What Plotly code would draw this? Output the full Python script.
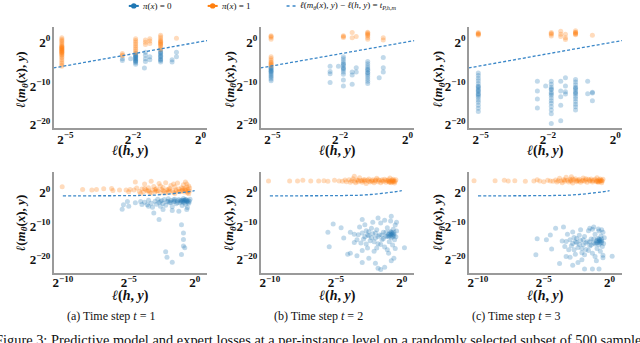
import plotly.graph_objects as go

W, H = 640, 343
BLUE = "#1f77b4"
ORANGE = "#ff7f0e"
LINE_BLUE = "#3a87c8"
SERIF = "Liberation Serif"

# ------------------------------------------------------------------
# DATA  (all values are log2 of the losses)
# top row: columns -> (log2 l(h,y), [log2 l(m(x),y) ...])
# ------------------------------------------------------------------
top1_orange = [(-5.16, [1.0, 0.7, 0.4, 0.1, -0.2, -0.5, -0.8, -1.0, -1.2, -1.4, -1.6, -1.8, -2.0, -2.2,
                        -2.4, -2.6, -2.8, -3.0, -3.3, -3.6, -4.0, -4.4, -4.8, -5.2, -5.5, -1.1, -1.5, -1.9, -2.3]),
               (-2.47, [-2.6, -2.9, -3.1]),
               (-1.92, [0.8, 0.4, 0.0, -0.4, -0.8, -1.2, -1.6, -2.0, -2.4]),
               (-1.63, [0.5, 0.0, -0.5]),
               (-1.50, [0.8, 0.3, -0.3]),
               (-1.18, [1.6, 1.2, 0.8, 0.4, 0.0, -0.4, -0.8, -1.2, -1.6, 0.2, -0.2, -0.6]),
               (-0.71, [0.9])]
top1_blue = [(-2.47, [-3.8, -4.2]),
             (-2.10, [-3.8]),
             (-1.92, [-2.6, -2.9, -3.2, -3.5, -3.8, -4.1, -4.4, -4.7, -5.0, -3.0, -3.4, -3.9, -4.3]),
             (-1.66, [-5.9]),
             (-1.63, [-2.3, -3.0, -3.8, -4.4]),
             (-1.50, [-3.3, -4.0]),
             (-1.18, [-1.8, -2.2, -2.6, -3.0, -3.4, -3.8, -4.2, -4.5, -2.4, -3.2, -4.0]),
             (-0.84, [-4.0, -4.5]),
             (-0.71, [-2.3, -3.3])]

top2_orange = [(-5.06, [1.5, 1.1, 0.7, 1.3, -3.3, -3.7, -4.1, -4.5, -4.9, -5.3, -4.7, -5.1]),
               (-1.90, [1.3, 1.1, 1.5]),
               (-1.64, [2.2, 1.0]),
               (-1.52, [1.3]),
               (-1.18, [2.3, 1.9, 1.5, 1.1, 0.7, 2.1, 1.7]),
               (-0.72, [1.0, 0.5])]
top2_blue = [(-5.06, [-5.6, -5.9, -6.2, -6.5, -6.8, -7.1, -7.4, -7.7, -8.0, -8.4, -8.8, -6.0, -6.6]),
             (-2.44, [-5.5, -6.7, -7.2, -9.2]),
             (-2.07, [-5.5]),
             (-1.90, [-3.3, -3.8, -4.3, -4.8, -5.3, -5.8, -6.3, -6.8, -7.3, -8.6, -10.0, -5.0, -6.0]),
             (-1.64, [-6.8, -7.5, -9.6]),
             (-1.52, [-5.8, -6.8]),
             (-1.18, [-4.4, -4.9, -5.4, -5.9, -6.4, -6.9, -7.4, -7.9, -8.4, -8.9, -9.4, -6.2, -7.0]),
             (-0.84, [-8.1]),
             (-0.72, [-3.5, -5.8, -6.8])]

top3_orange = [(-5.10, [2.2, 1.9, 1.6, 2.0, 1.8]),
               (-1.90, [2.2, 1.8, 1.4, 2.0]),
               (-1.62, [2.5, 1.8, 1.3]),
               (-1.48, [1.8, 1.0, 0.6]),
               (-1.18, [2.6, 2.3, 2.0, 1.7, 2.2, 1.9]),
               (-0.68, [1.6])]
top3_blue = [(-5.10, [-7.0, -7.6, -8.2, -8.8, -9.4, -10.0, -10.5, -11.0, -11.5, -12.0, -12.5, -13.0, -13.6,
                      -14.2, -15.0, -15.8, -16.6, -10.2, -11.2, -12.2]),
             (-2.47, [-8.9, -11.3, -13.4, -15.7]),
             (-2.10, [-10.0]),
             (-1.90, [-8.9, -9.6, -10.3, -11.0, -11.7, -12.4, -13.1, -13.8, -14.5, -15.3, -16.2, -17.2, -19.7,
                      -10.8, -12.0]),
             (-1.62, [-8.9, -11.3, -12.8, -15.0, -19.0]),
             (-1.48, [-8.1, -10.0, -11.5, -12.1]),
             (-1.18, [-8.5, -9.1, -9.7, -10.3, -10.9, -11.5, -12.1, -12.7, -13.3, -14.0, -14.7, -15.4, -16.2,
                      -10.6, -11.8]),
             (-0.82, [-8.9, -12.0]),
             (-0.68, [-11.6, -11.8, -13.8])]

# threshold line in the top row (log2 x, log2 y)
top_thr_x = [-5.53, -5.0, -2.0, 0.0, 0.2]
top_thr_y = [-5.87, -5.38, -2.64, 0.10, 0.38]

# bottom row: (log2 l(h,y), log2 l(m(x),y)) pairs
bot1_orange = [(-10.05, 1.8), (-8.5, 1.0), (-7.8, 0.8), (-7.45, 1.0), (-6.9, 1.2), (-6.3, 1.3), (-6.2, 0.7),
               (-5.7, 0.8), (-5.2, 0.8), (-4.9, 1.0), (-4.6, 0.8), (-4.5, 3.2), (-5.0, 0.3), (-4.4, 1.4),
               (-4.2, 0.4), (-4.0, 1.1), (-3.9, 0.2), (-3.8, 2.6), (-3.7, 0.9), (-3.6, 0.5), (-3.5, 1.5),
               (-3.4, 0.1), (-3.3, 3.4), (-3.2, 0.8), (-3.1, 1.9), (-3.0, 0.3), (-2.9, 1.2), (-2.8, 0.6),
               (-2.7, 2.8), (-2.6, 0.0), (-2.5, 1.0), (-2.4, 1.6), (-2.3, 0.4), (-2.2, 3.0), (-2.1, 0.9),
               (-2.0, 0.2), (-1.9, 1.3), (-1.8, 2.2), (-1.7, 0.7), (-1.6, 0.1), (-1.5, 1.8), (-1.4, 0.5),
               (-1.3, 2.9), (-1.2, 1.1), (-1.1, 0.3), (-1.0, 1.5), (-0.9, 0.8), (-0.85, 2.4), (-0.8, 0.2),
               (-0.75, 1.2), (-0.7, 3.2), (-0.65, 0.6), (-0.6, 1.7), (-0.55, 0.0), (-0.5, 1.0), (-0.45, 2.0),
               (-0.4, 0.5), (-0.38, 1.4), (-3.5, 0.6), (-2.9, 0.5), (-2.4, 0.7), (-1.9, 0.6), (-1.4, 0.9),
               (-1.0, 0.6), (-0.7, 0.9), (-0.5, 0.4), (-3.0, 1.0), (-2.0, 1.0), (-1.2, 0.4), (-0.9, 1.3),
               (-2.6, 2.0), (-1.6, 2.6), (-0.6, 2.6), (-3.8, 1.3), (-4.1, -0.2), (-3.3, -0.1), (-1.5, -0.2),
               (-0.45, -0.3), (-2.2, -0.1)]
bot1_blue = [(-3.8, -2.8), (-3.6, -3.6), (-3.5, -2.2), (-3.3, -3.1), (-3.2, -4.3), (-3.0, -2.5), (-2.9, -3.4),
             (-2.8, -1.9), (-2.7, -2.9), (-2.6, -4.0), (-2.5, -2.3), (-2.4, -3.2), (-2.3, -2.0), (-2.2, -3.7),
             (-2.1, -2.6), (-2.0, -1.8), (-1.9, -3.0), (-1.8, -2.3), (-1.7, -4.2), (-1.6, -2.7), (-1.5, -1.9),
             (-1.4, -3.3), (-1.3, -2.4), (-1.2, -2.0), (-1.1, -3.0), (-1.0, -2.6), (-0.95, -3.8), (-0.9, -2.2),
             (-0.85, -1.7), (-0.8, -2.9), (-0.75, -2.4), (-0.7, -3.4), (-0.65, -2.0), (-0.6, -2.7),
             (-0.55, -4.4), (-0.5, -2.3), (-0.45, -3.1), (-0.4, -2.5), (-0.35, -1.9), (-2.6, -2.6),
             (-2.0, -2.5), (-1.5, -2.5), (-1.1, -2.4), (-0.8, -2.2), (-0.6, -2.4), (-1.3, -2.9), (-1.8, -2.9),
             (-0.9, -2.7), (-0.5, -2.8), (-0.7, -2.1), (-1.0, -2.2), (-1.6, -2.1), (-4.5, -3.0), (-5.1, -2.6),
             (-5.4, -3.6), (-5.0, -4.0), (-4.1, -2.6), (-3.5, -4.0), (-5.5, -4.9), (-4.0, -3.5), (-3.1, -6.0),
             (-2.7, -8.0), (-1.7, -5.3), (-1.0, -9.5), (-0.85, -12.0), (-0.85, -13.9), (-0.85, -15.9),
             (-0.75, -16.4), (-1.0, -18.4), (-2.2, -17.6), (-2.1, -19.2), (-1.7, -20.7), (-2.4, -5.0),
             (-1.2, -5.5), (-0.6, -5.0)]

bot2_orange = [(-10.1, 3.5), (-8.5, 3.5), (-7.9, 3.5), (-7.5, 3.7), (-6.9, 3.5), (-6.3, 3.5), (-5.9, 3.6),
               (-5.6, 3.4), (-5.1, 3.7), (-4.75, 3.5), (-4.5, 3.4), (-4.3, 3.8), (-4.2, 3.3), (-4.0, 3.9),
               (-3.9, 3.1), (-3.8, 3.6), (-3.7, 4.2), (-3.6, 3.4), (-3.5, 3.0), (-3.4, 3.8), (-3.3, 3.3),
               (-3.2, 4.5), (-3.1, 3.6), (-3.0, 3.1), (-2.9, 3.9), (-2.8, 3.4), (-2.7, 2.8), (-2.6, 3.7),
               (-2.5, 4.1), (-2.4, 3.2), (-2.3, 3.6), (-2.2, 3.9), (-2.1, 3.0), (-2.0, 3.5), (-1.9, 4.3),
               (-1.8, 3.3), (-1.7, 3.7), (-1.6, 3.0), (-1.5, 3.9), (-1.4, 3.4), (-1.3, 4.0), (-1.2, 3.1),
               (-1.1, 3.6), (-1.0, 3.9), (-0.95, 3.2), (-0.9, 4.4), (-0.85, 3.5), (-0.8, 3.0), (-0.75, 3.8),
               (-0.7, 3.3), (-0.65, 4.0), (-0.6, 3.6), (-0.55, 2.9), (-0.5, 3.4), (-0.45, 3.9), (-3.0, 3.6),
               (-2.5, 3.4), (-2.0, 3.8), (-1.5, 3.5), (-1.0, 3.4), (-0.7, 3.6), (-3.3, 3.7), (-2.2, 3.4),
               (-1.2, 3.7), (-0.9, 3.1), (-0.6, 3.3), (-1.8, 3.9), (-2.8, 3.9), (-3.6, 4.9)]
bot2_blue = [(-5.2, -9.3), (-5.6, -11.8), (-5.5, -16.1), (-4.1, -18.3), (-3.9, -18.0), (-3.4, -18.8),
             (-3.0, -20.8), (-1.8, -22.5), (-1.6, -22.9), (-1.3, -22.2), (-0.8, -20.3), (0.2, -16.4),
             (-3.9, -11.8), (-3.0, -8.0), (-1.8, -7.5), (-0.8, -7.0), (-4.4, -13.5), (-4.6, -10.4),
             (-3.6, -14.8), (-2.5, -19.5), (-2.0, -21.0), (-1.0, -18.0), (-0.6, -19.5), (-3.3, -12.5),
             (-3.2, -10.2), (-3.1, -15.0), (-3.0, -12.0), (-2.9, -13.8), (-2.8, -9.5), (-2.7, -11.3),
             (-2.6, -16.5), (-2.5, -12.8), (-2.4, -14.3), (-2.3, -10.6), (-2.2, -12.2), (-2.1, -17.4),
             (-2.0, -13.5), (-1.9, -11.0), (-1.8, -15.2), (-1.7, -12.6), (-1.6, -9.0), (-1.5, -14.0),
             (-1.4, -11.8), (-1.3, -16.2), (-1.2, -13.0), (-1.1, -10.4), (-1.0, -12.4), (-0.95, -14.6),
             (-0.9, -11.6), (-0.85, -8.4), (-0.8, -13.4), (-0.75, -12.0), (-0.7, -15.6), (-0.65, -10.9),
             (-0.6, -12.8), (-0.55, -14.0), (-0.5, -9.6), (-0.45, -13.1), (-0.4, -11.4), (-2.6, -12.6),
             (-2.0, -12.0), (-1.5, -12.6), (-1.0, -13.0), (-0.8, -12.5), (-0.6, -11.8), (-1.2, -11.8),
             (-1.8, -13.0), (-2.3, -13.4), (-0.9, -12.9), (-0.7, -12.3), (-1.4, -13.6), (-3.6, -12.4),
             (-2.7, -15.3), (-1.9, -16.5), (-1.1, -17.0), (-0.5, -16.6), (-3.0, -17.2), (-2.2, -8.8),
             (-1.3, -8.2), (-0.4, -8.8), (-0.9, -12.2), (-0.7, -13.0), (-0.8, -11.7), (-0.6, -12.4),
             (-1.1, -12.9), (-2.5, -11.6), (-2.1, -14.6), (-1.6, -15.4), (-3.4, -14.0), (-2.8, -13.1)]

bot3_orange = [(-10.3, 3.6), (-8.7, 3.6), (-8.0, 3.7), (-7.7, 3.5), (-7.2, 3.6), (-6.4, 3.4), (-5.75, 3.5),
               (-5.5, 3.9), (-5.3, 3.5), (-5.0, 3.3), (-4.7, 3.7), (-4.5, 3.5), (-4.3, 3.4), (-4.1, 3.8),
               (-4.0, 3.2), (-3.9, 3.6), (-3.8, 4.3), (-3.7, 3.5), (-3.6, 3.0), (-3.5, 3.9), (-3.4, 3.4),
               (-3.3, 4.6), (-3.2, 3.7), (-3.1, 3.2), (-3.0, 4.0), (-2.9, 3.5), (-2.8, 2.9), (-2.7, 3.8),
               (-2.6, 4.2), (-2.5, 3.3), (-2.4, 3.7), (-2.3, 4.0), (-2.2, 3.1), (-2.1, 3.6), (-2.0, 4.4),
               (-1.9, 3.4), (-1.8, 3.8), (-1.7, 3.1), (-1.6, 4.0), (-1.5, 3.5), (-1.4, 4.1), (-1.3, 3.2),
               (-1.2, 3.7), (-1.1, 4.0), (-1.0, 3.3), (-0.95, 4.5), (-0.9, 3.6), (-0.85, 3.1), (-0.8, 3.9),
               (-0.75, 3.4), (-0.7, 4.1), (-0.65, 3.7), (-0.6, 3.0), (-0.55, 3.5), (-0.5, 4.0), (-3.0, 3.6),
               (-2.5, 3.6), (-2.0, 3.7), (-1.5, 3.7), (-1.0, 3.6), (-0.7, 3.5), (-3.4, 3.8), (-2.3, 3.5),
               (-1.3, 3.6), (-0.9, 3.3), (-0.6, 3.6), (-1.8, 4.2), (-2.8, 4.1), (-2.9, 4.8)]
bot3_blue = [(-5.5, -13.7), (-5.6, -18.5), (-4.8, -14.0), (-4.1, -10.6), (-3.5, -10.2), (-3.8, -21.1),
             (-2.8, -21.6), (-2.4, -20.8), (-1.9, -22.7), (-1.3, -22.7), (-0.8, -22.7), (0.2, -18.9),
             (-1.5, -10.6), (-1.2, -10.2), (-0.8, -11.4), (-4.4, -16.8), (-3.3, -19.0), (-2.1, -20.0),
             (-1.0, -20.3), (-0.5, -19.4), (-4.5, -12.6), (-3.3, -14.5), (-3.2, -12.4), (-3.1, -17.0),
             (-3.0, -14.0), (-2.9, -15.8), (-2.8, -11.7), (-2.7, -13.3), (-2.6, -18.3), (-2.5, -14.8),
             (-2.4, -16.3), (-2.3, -12.7), (-2.2, -14.2), (-2.1, -17.9), (-2.0, -15.5), (-1.9, -13.0),
             (-1.8, -16.9), (-1.7, -14.6), (-1.6, -11.3), (-1.5, -15.9), (-1.4, -13.8), (-1.3, -18.0),
             (-1.2, -15.0), (-1.1, -12.4), (-1.0, -14.4), (-0.95, -16.6), (-0.9, -13.6), (-0.85, -10.8),
             (-0.8, -15.4), (-0.75, -14.0), (-0.7, -17.4), (-0.65, -12.9), (-0.6, -14.8), (-0.55, -16.0),
             (-0.5, -11.8), (-0.45, -15.1), (-0.4, -13.4), (-2.6, -14.6), (-2.0, -14.0), (-1.5, -14.6),
             (-1.0, -15.0), (-0.8, -14.5), (-0.6, -13.8), (-1.2, -13.8), (-1.8, -15.0), (-2.3, -15.4),
             (-0.9, -14.9), (-0.7, -14.3), (-1.4, -15.6), (-3.6, -14.4), (-2.7, -17.0), (-1.9, -18.5),
             (-1.1, -19.0), (-0.5, -18.6), (-3.0, -19.2), (-2.2, -11.0), (-1.3, -10.9), (-0.6, -11.0),
             (-0.9, -14.2), (-0.7, -15.0), (-0.8, -13.8), (-0.6, -14.4), (-1.1, -15.3), (-2.5, -13.6),
             (-2.1, -16.6), (-1.6, -17.2), (-3.4, -16.0), (-2.8, -15.1)]

# threshold line in the bottom row (log2 x, log2 y)
bot_thr_x = [-10, -6, -4, -3, -2, -1, -0.5, 0]
bot_thr_y = [-0.9, -0.88, -0.8, -0.7, -0.38, 0.05, 0.3, 0.62]

top_xticks = [-5, -2, 0]
top_yticks = [0, -10, -20]
bot_xticks = [-10, -5, 0]
bot_yticks = [0, -10, -20]

captions = ["(a) Time step <i>t</i> = 1", "(b) Time step <i>t</i> = 2", "(c) Time step <i>t</i> = 3"]


# ------------------------------------------------------------------
# axis scale of the top row (non-uniform, as in the original)
# ------------------------------------------------------------------
def tx_top(e):
    return (e + 5) / 3 if e <= -2 else 1 + (e + 2) / 2


def ty_top(e):
    return e if e >= -10 else -10 + (e + 10) * 0.88


def flat_cols(cols):
    xs, ys = [], []
    for x, yl in cols:
        for y in yl:
            xs.append(tx_top(x))
            ys.append(ty_top(y))
    return xs, ys


def pow2(e):
    return "<b>2<sup>" + str(e).replace("-", "\u2212") + "</sup></b>"


fig = go.Figure()

col_px = [(52.7, 206.5), (260.0, 414.0), (468.5, 622.0)]
row_px = [(27.0, 130.0), (174.0, 276.5)]

top_sets = [(top1_orange, top1_blue), (top2_orange, top2_blue), (top3_orange, top3_blue)]
bot_sets = [(bot1_orange, bot1_blue), (bot2_orange, bot2_blue), (bot3_orange, bot3_blue)]

mk = dict(size=5, opacity=0.28, line=dict(width=0))

layout_axes = {}
for r in range(2):
    for c in range(3):
        k = r * 3 + c + 1
        xa = "x" if k == 1 else f"x{k}"
        ya = "y" if k == 1 else f"y{k}"
        x0, x1 = col_px[c]
        y0, y1 = row_px[r]
        if r == 0:
            orange, blue = top_sets[c]
            ox, oy = flat_cols(orange)
            bx, by = flat_cols(blue)
            lx = [tx_top(v) for v in top_thr_x]
            ly = [ty_top(v) for v in top_thr_y]
            xr = [-0.175, 2.1]
            yr = [-19.7, 3.55]
            xtv = [tx_top(v) for v in top_xticks]
            ytv = [ty_top(v) for v in top_yticks]
            xtt = [pow2(v) for v in top_xticks]
            ytt = [pow2(v) for v in top_yticks]
            shape = "linear"
            standoff = -2
        else:
            orange, blue = bot_sets[c]
            ox, oy = [p[0] for p in orange], [p[1] for p in orange]
            bx, by = [p[0] for p in blue], [p[1] for p in blue]
            lx, ly = bot_thr_x, bot_thr_y
            xr = [-10.7, 0.95]
            yr = [-24.0, 6.2]
            xtv, ytv = bot_xticks, bot_yticks
            xtt = [pow2(v) for v in bot_xticks]
            ytt = [pow2(v) for v in bot_yticks]
            shape = "spline"
            standoff = -3
        fig.add_trace(go.Scatter(x=bx, y=by, mode="markers", marker=dict(color=BLUE, **mk),
                                 xaxis=xa, yaxis=ya, showlegend=False, cliponaxis=False, hoverinfo="skip"))
        fig.add_trace(go.Scatter(x=ox, y=oy, mode="markers", marker=dict(color=ORANGE, **mk),
                                 xaxis=xa, yaxis=ya, showlegend=False, cliponaxis=False, hoverinfo="skip"))
        fig.add_trace(go.Scatter(x=lx, y=ly, mode="lines", line=dict(color=LINE_BLUE, width=1.3, dash="3px,2px",
                                                                      shape=shape),
                                 xaxis=xa, yaxis=ya, showlegend=False, hoverinfo="skip"))
        common = dict(showgrid=False, zeroline=False, showline=True, linecolor="#9a9a9a", linewidth=1.6,
                      ticks="", tickfont=dict(family=SERIF, size=13, color="#111"), fixedrange=True)
        layout_axes["xaxis" if k == 1 else f"xaxis{k}"] = dict(
            domain=[x0 / W, x1 / W], range=xr, anchor=ya, tickmode="array", tickvals=xtv, ticktext=xtt,
            ticklabelstandoff=standoff, **common)
        layout_axes["yaxis" if k == 1 else f"yaxis{k}"] = dict(
            domain=[1 - y1 / H, 1 - y0 / H], range=yr, anchor=xa, tickmode="array", tickvals=ytv,
            ticktext=ytt, ticklabelstandoff=-1, **common)

fig.update_layout(**layout_axes)

ann = []
xlab = "<b><i>\u2113</i>(<i>h</i>, <i>y</i>)</b>"
ylab = "<b><i>\u2113</i>(<i>m</i><sub><i>\u03b8</i></sub>(<i>x</i>), <i>y</i>)</b>"
xt_centers = [129.5, 337, 545]
yt_x = [20, 229, 438]
for c in range(3):
    ann.append(dict(x=xt_centers[c] / W, y=1 - 153 / H, text=xlab, showarrow=False, xref="paper", yref="paper",
                    font=dict(family=SERIF, size=14, color="#111"), xanchor="center", yanchor="middle"))
    ann.append(dict(x=xt_centers[c] / W, y=1 - 299 / H, text=xlab, showarrow=False, xref="paper",
                    yref="paper", font=dict(family=SERIF, size=14, color="#111"), xanchor="center",
                    yanchor="middle"))
    for yc in (80, 225):
        ann.append(dict(x=yt_x[c] / W, y=1 - yc / H, text=ylab, textangle=-90, showarrow=False, xref="paper",
                        yref="paper", font=dict(family=SERIF, size=13, color="#111"), xanchor="center",
                        yanchor="middle"))

cap_x = [110, 318, 516]
for c in range(3):
    ann.append(dict(x=cap_x[c] / W, y=1 - 320 / H, text=captions[c], showarrow=False, xref="paper",
                    yref="paper", font=dict(family=SERIF, size=12, color="#111"), xanchor="center",
                    yanchor="middle"))

ann.append(dict(x=-8 / W, y=1 - 344 / H, xref="paper", yref="paper", showarrow=False, xanchor="left",
                yanchor="middle", font=dict(family=SERIF, size=14.4, color="#111"),
                text="Figure 3: Predictive model and expert losses at a per-instance level on a randomly "
                     "selected subset of 500 samples from the"))

# custom legend
leg_y = 6
LEG_FONT = dict(family=SERIF, size=9, color="#111")
ann.append(dict(x=140 / W, y=1 - leg_y / H, xref="paper", yref="paper", showarrow=False, xanchor="left",
                yanchor="middle", font=LEG_FONT, text="<i>\u03c0</i>(<i>x</i>) = 0"))
ann.append(dict(x=219 / W, y=1 - leg_y / H, xref="paper", yref="paper", showarrow=False, xanchor="left",
                yanchor="middle", font=LEG_FONT, text="<i>\u03c0</i>(<i>x</i>) = 1"))
ann.append(dict(x=297 / W, y=1 - leg_y / H, xref="paper", yref="paper", showarrow=False, xanchor="left",
                yanchor="middle", font=LEG_FONT,
                text="<i>\u2113</i>(<i>m</i><sub><i>\u03b8</i></sub>(<i>x</i>), <i>y</i>) \u2212 "
                     "<i>\u2113</i>(<i>h</i>, <i>y</i>) = <i>t</i><sub><i>P,h,m</i></sub>"))

shapes = []
for cx, col in ((133, BLUE), (212, ORANGE)):
    shapes.append(dict(type="line", xref="paper", yref="paper", x0=(cx - 5) / W, x1=(cx + 5) / W,
                       y0=1 - leg_y / H, y1=1 - leg_y / H, line=dict(color=col, width=2)))
    shapes.append(dict(type="circle", xref="paper", yref="paper", x0=(cx - 2.7) / W, x1=(cx + 2.7) / W,
                       y0=1 - (leg_y + 2.7) / H, y1=1 - (leg_y - 2.7) / H, fillcolor=col, line=dict(width=0)))
shapes.append(dict(type="line", xref="paper", yref="paper", x0=286 / W, x1=295 / W, y0=1 - leg_y / H,
                   y1=1 - leg_y / H, line=dict(color=LINE_BLUE, width=1.5, dash="dot")))

fig.update_layout(width=W, height=H, margin=dict(l=0, r=0, t=0, b=0), paper_bgcolor="white",
                  plot_bgcolor="white", showlegend=False, annotations=ann, shapes=shapes, hovermode=False)

fig.write_html("out.html", config={"displayModeBar": False, "staticPlot": True},
               post_script="document.body.style.margin='0';document.body.style.overflow='hidden';")
